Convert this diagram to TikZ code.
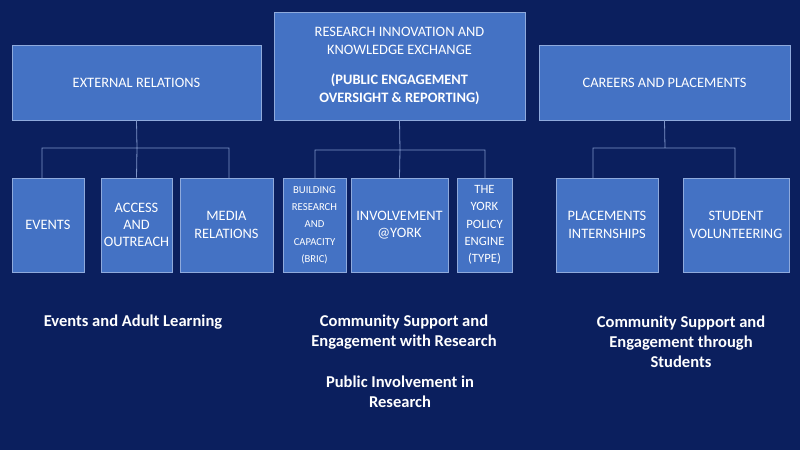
\documentclass[tikz,border=0pt]{standalone}
\usepackage{fontspec}
\setmainfont{Carlito}
\definecolor{bg}{HTML}{0B1F5E}
\definecolor{boxf}{HTML}{4472C4}
\definecolor{boxd}{HTML}{8FAADC}
\definecolor{ln}{HTML}{7F95C8}
\begin{document}
\begin{tikzpicture}[x=0.75pt,y=-0.75pt,
  bx/.style={draw=boxd,fill=boxf,line width=0.6pt,text=white,align=center,font=\fontsize{10.8}{13}\selectfont,inner sep=1pt},
  lbl/.style={text=white,align=center,font=\fontsize{12.4}{15}\selectfont\bfseries},
  cn/.style={draw=ln,line width=0.6pt}]
\fill[bg] (0,0) rectangle (800,450);
\useasboundingbox (0,0) rectangle (800,450);
\newcommand{\bxn}[6]{\node[bx,minimum width=#4*0.75pt,minimum height=#5*0.75pt] (#1) at (#2,#3) {#6};}
\bxn{er}{136.5}{82.5}{249}{75}{EXTERNAL RELATIONS}
\bxn{rk}{399.5}{66}{251}{108}{RESEARCH INNOVATION AND\\KNOWLEDGE EXCHANGE\\[10pt]{\bfseries (PUBLIC ENGAGEMENT}\\{\bfseries OVERSIGHT \& REPORTING)}}
\bxn{cp}{664.5}{82.5}{251}{75}{CAREERS AND PLACEMENTS}
\bxn{ev}{48}{225}{72}{94}{EVENTS}
\bxn{ac}{136.5}{225}{71}{94}{ACCESS\\AND\\OUTREACH}
\bxn{me}{226.5}{225}{93}{94}{MEDIA\\RELATIONS}
\bxn{br}{314.5}{225}{63}{94}{\fontsize{8}{10.5}\selectfont BUILDING\\\fontsize{8}{10.5}\selectfont RESEARCH\\\fontsize{8}{10.5}\selectfont AND\\\fontsize{8}{10.5}\selectfont CAPACITY\\\fontsize{8}{10.5}\selectfont (BRIC)}
\bxn{in}{399.5}{225}{97}{94}{INVOLVEMENT\\@YORK}
\bxn{ty}{484.5}{225}{55}{94}{\fontsize{9.5}{12}\selectfont THE\\\fontsize{9.5}{12}\selectfont YORK\\\fontsize{9.5}{12}\selectfont POLICY\\\fontsize{9.5}{12}\selectfont ENGINE\\\fontsize{9.5}{12}\selectfont (TYPE)}
\bxn{pl}{607}{225}{102}{94}{PLACEMENTS\\INTERNSHIPS}
\bxn{sv}{736}{225}{106}{94}{STUDENT\\VOLUNTEERING}
\draw[cn] (er.south) -- (137,148) (42,178) -- (42,148) -- (229,148) -- (229,178) (ac.north) -- (137,148);
\draw[cn] (rk.south) -- (400,150) (315,178) -- (315,150) -- (485,150) -- (485,178) (in.north) -- (400,150);
\draw[cn] (cp.south) -- (665,148) (593,178) -- (593,148) -- (735,148) -- (735,178);
\node[lbl] (l1) at (133,322) {Events and Adult Learning};
\node[lbl] (l2) at (404,332) {Community Support and\\Engagement with Research};
\node[lbl] (l3) at (400,392) {Public Involvement in\\Research};
\node[lbl] (l4) at (681,342) {Community Support and\\Engagement through\\Students};
\end{tikzpicture}
\end{document}
